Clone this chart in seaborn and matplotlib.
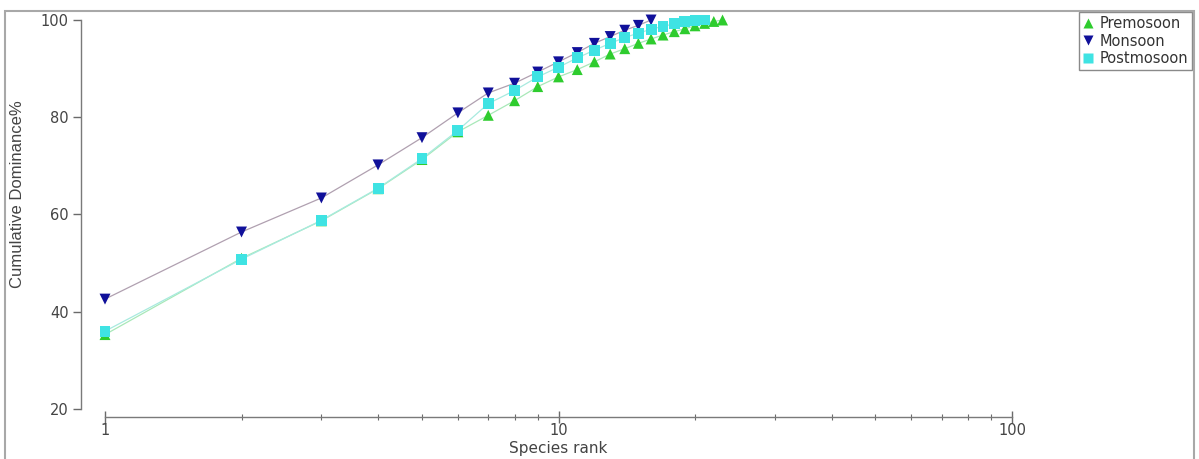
import matplotlib
matplotlib.use("Agg")
import matplotlib.pyplot as plt
import matplotlib.ticker as mticker
from matplotlib.patches import Rectangle
import pandas as pd
import seaborn as sns

# Cumulative dominance (%) by species rank
seasons = ["Premosoon", "Monsoon", "Postmosoon"]
premosoon = [35.3, 51.0, 58.7, 65.3, 71.3, 77.0, 80.4, 83.4, 86.3, 88.3, 89.8, 91.4,
             93.0, 94.1, 95.2, 96.1, 96.9, 97.6, 98.2, 98.8, 99.3, 99.7, 100.0]
monsoon = [42.6, 56.4, 63.4, 70.2, 75.8, 80.9, 85.0, 87.0, 89.3, 91.4, 93.3, 95.2,
           96.6, 97.9, 98.9, 100.0]
postmosoon = [36.0, 50.8, 58.8, 65.4, 71.5, 77.3, 82.8, 85.5, 88.3, 90.3, 92.2, 93.8,
              95.2, 96.4, 97.3, 98.1, 98.7, 99.2, 99.6, 99.9, 100.0]

marker_colors = {"Premosoon": "#2ecc2e", "Monsoon": "#10109a", "Postmosoon": "#3fe3e3"}
line_colors = {"Premosoon": "#a8e8b8", "Monsoon": "#b0a0b0", "Postmosoon": "#a8eadf"}
markers = {"Premosoon": "^", "Monsoon": "v", "Postmosoon": "s"}

rows = []
for name, vals in zip(seasons, [premosoon, monsoon, postmosoon]):
    for rank, v in enumerate(vals, start=1):
        rows.append({"season": name, "rank": rank, "dominance": v})
df = pd.DataFrame(rows)

sns.set_style("ticks")
plt.rcParams["font.family"] = ["DejaVu Sans"]

fig = plt.figure(figsize=(11.99, 4.59), dpi=100)
ax = fig.add_axes([105 / 1199, 1 - 409 / 459, (1012 - 105) / 1199, (409 - 20) / 459])

sns.lineplot(data=df, x="rank", y="dominance", hue="season", palette=line_colors,
             linewidth=0.9, legend=False, estimator=None, sort=False, ax=ax, clip_on=False)
sns.scatterplot(data=df, x="rank", y="dominance", hue="season", style="season",
                markers=markers, palette=marker_colors, s=62, edgecolor="none",
                ax=ax, clip_on=False, zorder=3)

ax.set_xscale("log")
ax.set_xlim(1, 100)
ax.set_ylim(20, 100)
ax.set_yticks([20, 40, 60, 80, 100])
ax.xaxis.set_major_locator(mticker.FixedLocator([1, 10, 100]))
ax.xaxis.set_major_formatter(mticker.FuncFormatter(lambda v, p: f"{v:g}"))
ax.xaxis.set_minor_locator(mticker.LogLocator(base=10, subs=range(2, 10)))
ax.xaxis.set_minor_formatter(mticker.NullFormatter())

for side in ["top", "right"]:
    ax.spines[side].set_visible(False)
ax.spines["left"].set_position(("outward", 17))
ax.spines["bottom"].set_position(("outward", 6))
for side in ["left", "bottom"]:
    ax.spines[side].set_color("#7a7a7a")
    ax.spines[side].set_linewidth(1.0)

ax.tick_params(axis="x", which="major", direction="inout", length=8, width=1,
               color="#6a6a6a", labelsize=10.5, labelcolor="#444444", pad=0)
ax.tick_params(axis="x", which="minor", direction="inout", length=5, width=0.8,
               color="#6a6a6a")
ax.tick_params(axis="y", which="major", direction="out", length=6, width=1,
               color="#6a6a6a", labelsize=10.5, labelcolor="#444444", pad=3)
ax.set_xlabel("")
ax.set_ylabel("")

fig.text(558 / 1199, 1 - 449 / 459, "Species rank", ha="center", va="center",
         fontsize=11, color="#444444")
fig.text(18 / 1199, 1 - 194 / 459, "Cumulative Dominance%", ha="center", va="center",
         rotation=90, fontsize=12, color="#444444",
         family=["Liberation Sans Narrow", "Liberation Sans"])

handles, labels = ax.get_legend_handles_labels()
keep = [(h, l) for h, l in zip(handles, labels) if l in seasons]
leg = ax.legend([h for h, _ in keep], [l for _, l in keep], loc="upper right",
                bbox_to_anchor=(1192 / 1199, 1 - 12 / 459), bbox_transform=fig.transFigure,
                frameon=True, fancybox=False, edgecolor="#8a8a8a", framealpha=1,
                fontsize=10.5, handlelength=0.8, handletextpad=0.4, borderpad=0.25,
                labelspacing=0.2, borderaxespad=0, markerscale=0.9)
leg.get_frame().set_linewidth(1.0)
for t in leg.get_texts():
    t.set_color("#333333")

fig.patches.append(Rectangle((5 / 1199, -0.1), (1194 - 5) / 1199, 1 - 11 / 459 + 0.1,
                             transform=fig.transFigure, fill=False,
                             edgecolor="#a8a8a8", linewidth=1.5, zorder=0))

fig.savefig("out.png", dpi=100)
